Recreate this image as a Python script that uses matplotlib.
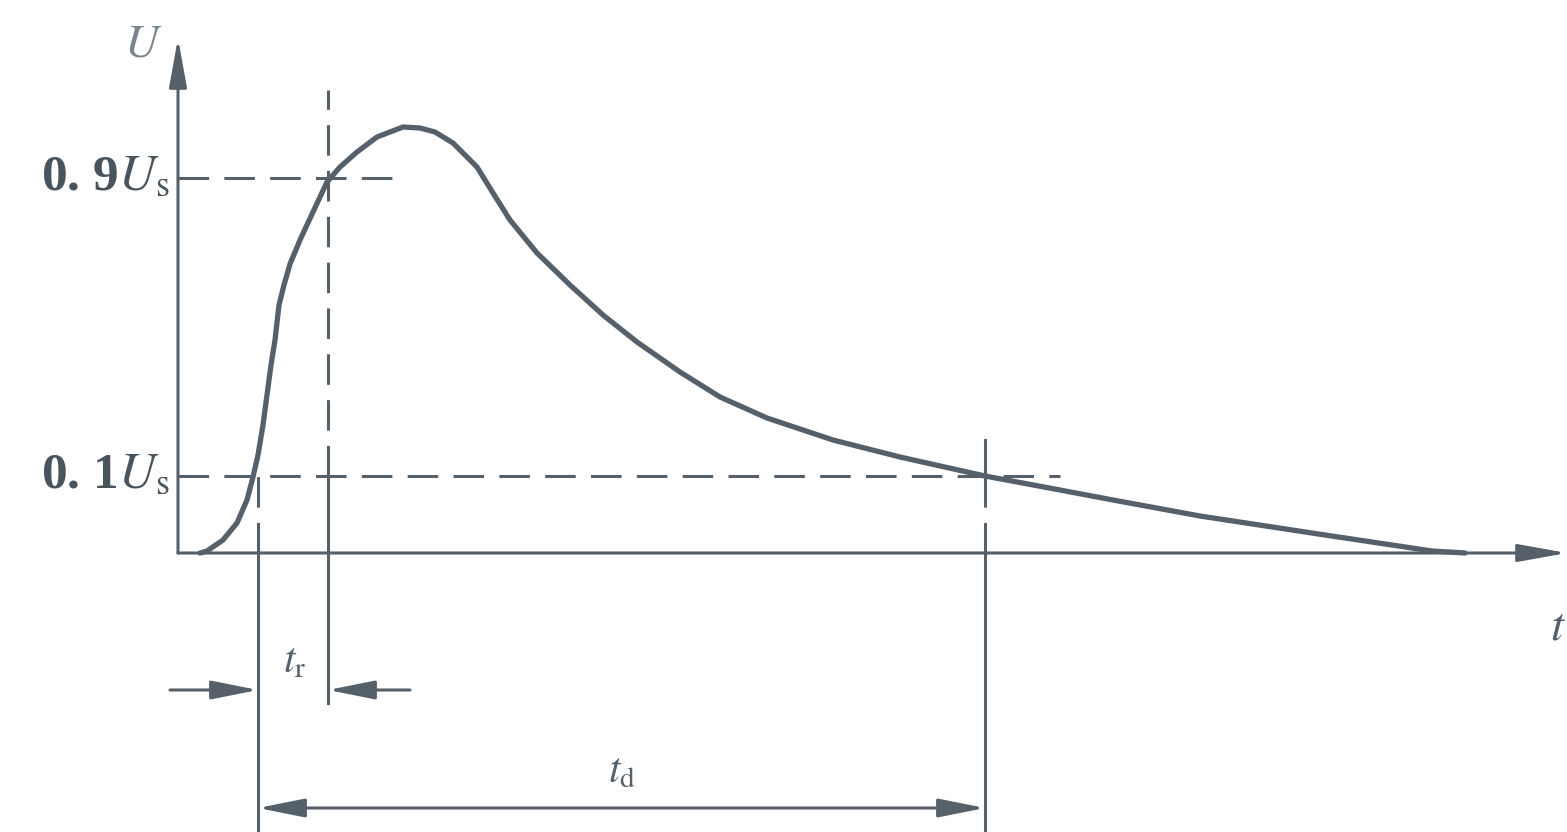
import numpy as np
import matplotlib
matplotlib.use("Agg")
import matplotlib.pyplot as plt

plt.rcParams['font.family'] = ['Liberation Serif', 'DejaVu Serif']
plt.rcParams['mathtext.fontset'] = 'stix'

# pulse shape (diagram units: t to the right, U upwards, not to scale)
pulse_t = [22, 29, 45, 59, 69, 75, 80, 85, 89, 93, 97, 101, 106, 112, 122, 135, 149, 162,
           179, 199, 225, 242, 257, 275, 299, 315, 332, 359, 392, 425, 459, 502, 542, 589,
           655, 722, 807, 882, 935, 1022, 1147, 1254, 1287]
pulse_u = [0, 2, 13, 30, 53, 76, 98, 128, 158, 188, 213, 248, 268, 289, 313, 341, 371, 386,
           401, 416, 426, 425, 421, 410, 386, 360, 333, 300, 268, 238, 211, 181, 156, 135,
           113, 96, 77, 63, 53, 37, 18, 2, 0]

# levels and times of the markers
u_90 = 375          # 0.9 Us
u_10 = 77           # 0.1 Us
t_10 = 80           # pulse crosses 0.1 Us on the rise
t_90 = 150          # pulse crosses 0.9 Us
t_10_fall = 807     # pulse falls back to 0.1 Us
level_labels = [r"0. 9$U_{\rm s}$", r"0. 1$U_{\rm s}$"]

ink = "#55606a"

fig = plt.figure(figsize=(15.67, 8.32), dpi=100)
ax = fig.add_axes([0, 0, 1, 1])
ax.set_xlim(-178, 1389)
ax.set_ylim(-279, 553)
ax.axis("off")

axis_arrow = dict(arrowstyle="-|>,head_length=1.5,head_width=0.27",
                  mutation_scale=20, lw=2.2, color=ink, shrinkA=0, shrinkB=0)
dim_arrow = dict(arrowstyle="-|>,head_length=1.5,head_width=0.3",
                 mutation_scale=19, lw=2.2, color=ink, shrinkA=0, shrinkB=0)

# axes with arrows
ax.annotate("", xy=(0, 515), xytext=(0, 0), arrowprops=axis_arrow)
ax.annotate("", xy=(1389, 0), xytext=(0, 0), arrowprops=axis_arrow)
ax.text(-16, 508, "$U$", fontsize=34, color="#7a848c", ha="right", va="center")
ax.text(1388, -75, "$t$", fontsize=34, color=ink, ha="right", va="center")

# level lines
dash = dict(color=ink, lw=2.2, dashes=(10, 5))
ax.plot([0, 222], [u_90, u_90], **dash)
ax.plot([0, 882], [u_10, u_10], **dash)
for lvl, lab in zip([u_90, u_10], level_labels):
    ax.text(-8, lvl, lab, fontsize=37, color="#4a545d", ha="right", va="center",
            fontweight="bold")

# vertical marker lines
ax.plot([t_90, t_90], [u_10, 463], **dash)
ax.plot([t_90, t_90], [-150, u_10], color=ink, lw=2.2)
ax.plot([t_10, t_10], [0, u_10], **dash)
ax.plot([t_10, t_10], [-279, 0], color=ink, lw=2.2)
ax.plot([t_10_fall, t_10_fall], [u_10, 113], color=ink, lw=2.2)
ax.plot([t_10_fall, t_10_fall], [0, u_10], **dash)
ax.plot([t_10_fall, t_10_fall], [-279, 0], color=ink, lw=2.2)

# the pulse
ax.plot(pulse_t, pulse_u, color=ink, lw=3.8, solid_capstyle="round",
        solid_joinstyle="round")

# rise time dimension
y_r = -137
ax.annotate("", xy=(t_10, y_r), xytext=(-8, y_r), arrowprops=dim_arrow)
ax.annotate("", xy=(t_90, y_r), xytext=(232, y_r), arrowprops=dim_arrow)
ax.text((t_10 + t_90) / 2 + 2, y_r + 28, r"$t_{\rm r}$", fontsize=30, color=ink,
        ha="center", va="center")

# duration dimension
y_d = -255
ax.annotate("", xy=(t_10, y_d), xytext=(t_10_fall, y_d),
            arrowprops=dict(dim_arrow, arrowstyle="<|-|>,head_length=1.5,head_width=0.3"))
ax.text((t_10 + t_10_fall) / 2, y_d + 36, r"$t_{\rm d}$", fontsize=30, color=ink,
        ha="center", va="center")

fig.savefig("out.png", dpi=100)
